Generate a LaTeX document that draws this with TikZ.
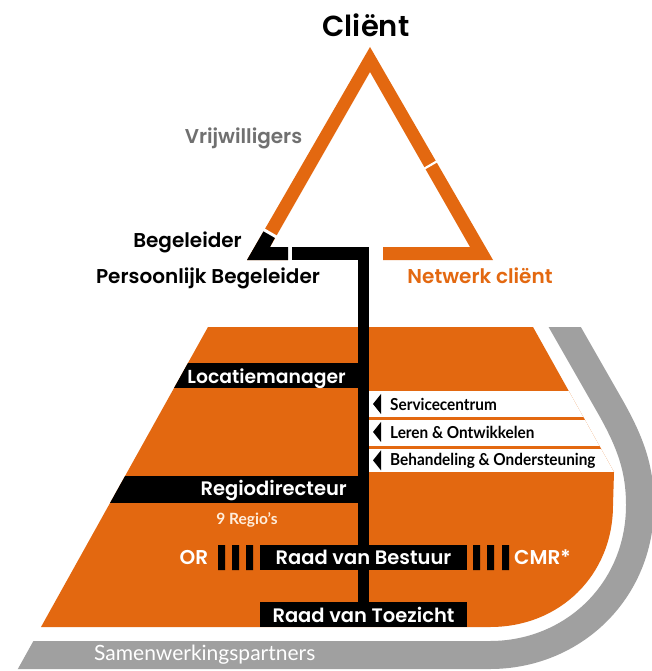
\documentclass[tikz,border=0pt]{standalone}
\usepackage{fontspec}
\setmainfont{Lato}
\newfontfamily\labelfont{Poppins}[BoldFont={Poppins SemiBold}]
\newfontfamily\narrowfont[FakeStretch=0.93]{Lato}
\usetikzlibrary{backgrounds}
\usetikzlibrary{calc,positioning}
\definecolor{dwOrange}{RGB}{227,104,16}
\definecolor{dwGrey}{RGB}{160,160,160}
\definecolor{dwText}{RGB}{112,112,112}
\definecolor{dwCream}{RGB}{255,238,220}

\begin{document}
\begin{tikzpicture}[
    x=1pt, y=-1pt,
    show background rectangle,
    tight background=0,
    background rectangle/.style={fill=white},
    txt/.style={inner sep=0pt, font=\labelfont\bfseries\fontsize{20}{22}\selectfont},
    bandtxt/.style={txt, text=white, font=\labelfont\bfseries\fontsize{19.5}{21}\selectfont},
    darkbox/.style={txt, text=white, fill=black, minimum width=207, minimum height=25,
        font=\labelfont\bfseries\fontsize{19.5}{21}\selectfont},
    striptxt/.style={inner sep=0pt, font=\narrowfont\bfseries\fontsize{16.5}{18}\selectfont},
    spine/.style={line width=11, black},
 ]
    \useasboundingbox (0,0) rectangle (652,671);
    \def\lowerShape{(208,327) -- (533,327) -- (614,472) -- (613,505)
        .. controls (613,575) and (560,627) .. (490,627) -- (41,627) -- cycle}

    % grey ring of partners
    \begin{scope}
        \clip (208,327) -- (800,327) -- (800,800) -- (-55,800) -- cycle;
        \draw[dwGrey, line width=28] (555,310) -- (611,408)
            .. controls (630,442) and (640,468) .. (640,505)
            .. controls (640,592) and (572,655) .. (490,655) -- (-60,655);
    \end{scope}
    \node[anchor=base west, inner sep=0pt, text=white,
        font=\fontsize{21}{23}\selectfont] (partners) at (94,660) {Samenwerkingspartners};

    % organisation
    \fill[dwOrange] \lowerShape;
    \begin{scope}
        \clip \lowerShape;
        \fill[white] (369,391) rectangle (700,472);
        \draw[dwOrange, line width=3] (369,418) -- (700,418)
            (369,447) -- (700,447);
        \fill (0,363) rectangle (369,388);
        \fill (0,476) rectangle (369,503);
    \end{scope}

    % triangle
    \fill[dwOrange, even odd rule] (370,47) -- (493,260) -- (247,260) -- cycle
        (370,72) -- (470,247) -- (270,247) -- cycle;
    \fill[white] (288,244) rectangle (383,263);
    \fill (247,260) -- (264.3,230) -- (275.6,236.5) -- (270,247)
        -- (288,247) -- (288,260) -- cycle;
    \fill (292,247) rectangle (369,260);
    \draw[white, line width=3] (262.6,229) -- (277.3,237.5);
    \draw[white, line width=2.2] (421.6,170.2) -- (439.6,159.8);

    \coordinate (spineTop) at (363.5,247);
    \coordinate (spineEnd) at (363.5,603);
    \draw[spine] (spineTop) -- (spineEnd);

    \node[txt, anchor=base, font=\labelfont\bfseries\fontsize{29}{31}\selectfont] (client) at (366,37) {Cliënt};
    \node[txt, anchor=base, text=dwText] (vrijw) at (243.5,144) {Vrijwilligers};
    \node[txt, anchor=base east] (begel) at (242,247) {Begeleider};
    \node[txt, anchor=base] (persbeg) at (208,283) {Persoonlijk Begeleider};
    \node[txt, anchor=base, text=dwOrange] (netwerk) at (480,283) {Netwerk cliënt};

    \node[bandtxt, anchor=base east, font=\labelfont\bfseries\fontsize{18.8}{20}\selectfont] (locman) at (346,383) {Locatiemanager};
    \node[bandtxt, anchor=base east] (regdir) at (347,495) {Regiodirecteur};
    \node[anchor=base, inner sep=0pt, text=dwCream,
        font=\bfseries\fontsize{15.5}{17}\selectfont] (regios) at (247,524) {9 Regio’s};

    \node[striptxt, anchor=base west] (service) at (390,410) {Servicecentrum};
    \node[striptxt, anchor=base west] (leren) at (390,438) {Leren \& Ontwikkelen};
    \node[striptxt, anchor=base west] (behand) at (390,465) {Behandeling \& Ondersteuning};
    \fill ($(service.west)+(-17,0)$) -- ++(8,-10) -- ++(0,20) -- cycle;
    \fill ($(leren.west)+(-17,0)$) -- ++(8,-10) -- ++(0,20) -- cycle;
    \fill ($(behand.west)+(-17,0)$) -- ++(8,-10) -- ++(0,20) -- cycle;

    \node[darkbox] (bestuur) at (363.5,557.5) {Raad van Bestuur};
    \node[darkbox] (toezicht) at (363.5,614.5) {Raad van Toezicht};
    \fill (218,545) rectangle (225,570) (232,545) rectangle (239,570)
        (246,545) rectangle (253,570);
    \fill (473,545) rectangle (480,570) (487,545) rectangle (494,570)
        (502,545) rectangle (509,570);
    \node[txt, text=white, anchor=base] (or) at (194,564) {OR};
    \node[txt, text=white, anchor=base west] (cmr) at (514,564) {CMR*};
\end{tikzpicture}
\end{document}
